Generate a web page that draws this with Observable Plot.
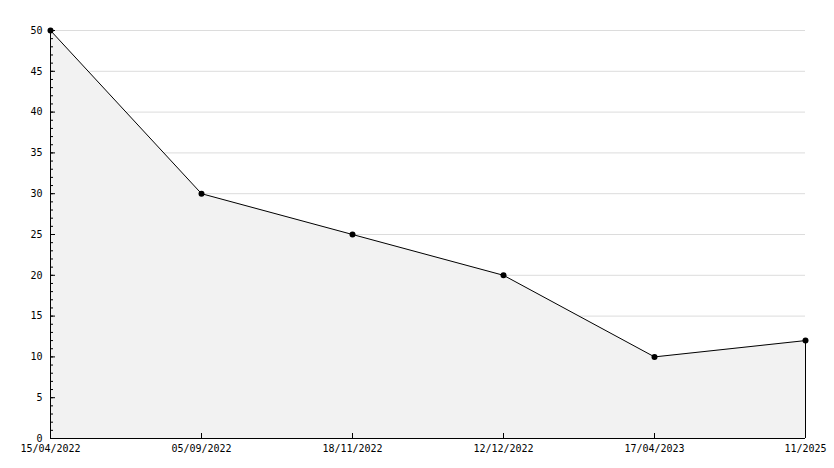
<!DOCTYPE html>
<html>
<head>
<meta charset="utf-8">
<script src="https://cdn.jsdelivr.net/npm/d3@7"></script>
<script src="https://cdn.jsdelivr.net/npm/@observablehq/plot@0.6"></script>
<style>
  html, body { margin: 0; padding: 0; background: #fff; }
  #chart svg { display: block; }
</style>
</head>
<body>
<div id="chart"></div>
<script>
const dates = ["15/04/2022", "05/09/2022", "18/11/2022", "12/12/2022", "17/04/2023", "11/2025"];
const values = [50, 30, 25, 20, 10, 12];
const majorTicks = [0, 5, 10, 15, 20, 25, 30, 35, 40, 45, 50];
const minorTicks = d3.range(0, 51, 1);

const data = dates.map((d, i) => ({date: d, value: values[i]}));
const last = data[data.length - 1];

const chart = Plot.plot({
  width: 834,
  height: 468,
  marginLeft: 50,
  marginRight: 29,
  marginTop: 30,
  marginBottom: 30,
  style: {fontFamily: "DejaVu Sans Mono", fontSize: "10px", color: "#000", background: "#fff"},
  x: {type: "point", domain: dates, padding: 0, label: null},
  y: {domain: [0, 50], label: null},
  marks: [
    Plot.ruleY(majorTicks.filter(d => d > 0), {stroke: "#dcdcdc", strokeWidth: 1}),
    Plot.areaY(data, {x: "date", y: "value", fill: "#f2f2f2", curve: "linear"}),
    Plot.line(data, {x: "date", y: "value", stroke: "#000", strokeWidth: 1}),
    Plot.ruleX([last], {x: "date", y1: 0, y2: "value", stroke: "#000"}),
    Plot.ruleX([dates[0]], {stroke: "#000"}),
    Plot.ruleY([0], {stroke: "#000"}),
    Plot.axisY({ticks: minorTicks, tickSize: -3, text: null, label: null, stroke: "#000"}),
    Plot.axisY({ticks: majorTicks, tickSize: -5, text: null, label: null, stroke: "#000"}),
    Plot.axisY({ticks: majorTicks, tickSize: 0, tickPadding: 8, label: null, fill: "#000"}),
    Plot.axisX({tickSize: -5, text: null, label: null, stroke: "#000"}),
    Plot.axisX({tickSize: 0, tickPadding: 6, label: null, fill: "#000"}),
    Plot.dot(data, {x: "date", y: "value", r: 3, fill: "#000", stroke: "none"})
  ]
});
document.getElementById("chart").appendChild(chart);
</script>
</body>
</html>
